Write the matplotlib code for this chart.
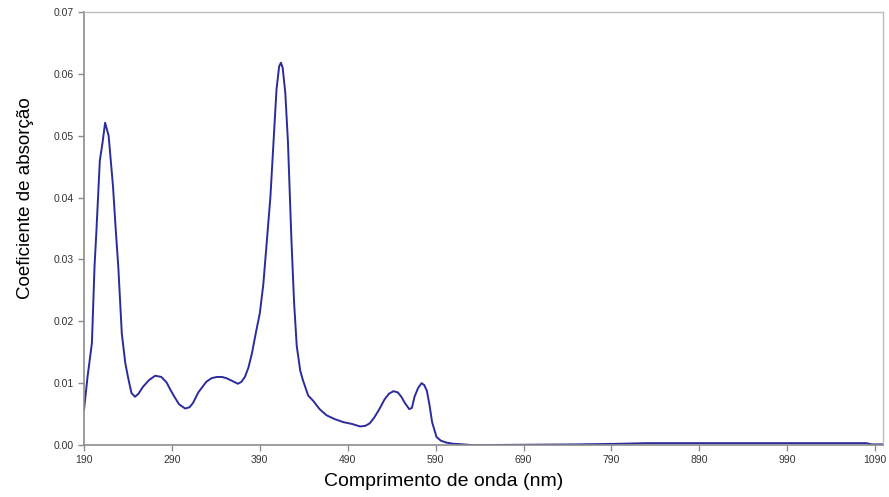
import numpy as np
import matplotlib.pyplot as plt

# Absorption spectrum values
wavelength = [190, 194, 199, 202, 204, 208, 211, 214, 218, 223, 226, 229, 233, 237, 240, 244,
              248, 252, 257, 264, 271, 278, 284, 288, 292, 298, 305, 310, 314, 320, 329,
              335, 341, 347, 352, 358, 365, 369, 373, 377, 381, 386, 390, 394, 398, 402,
              406, 409, 412, 414, 416, 419, 422, 426, 429, 432, 436, 439, 445, 451, 458,
              466, 475, 485, 495, 504, 510, 515, 520, 526, 532, 537, 542, 547, 551, 555,
              560, 563, 566, 570, 574, 577, 580, 583, 586, 591, 596, 602, 610, 617, 630,
              650, 700, 750, 800, 830, 900, 1000, 1080, 1086, 1098]
absorption = [0.0057, 0.0110, 0.0165, 0.0290, 0.0343, 0.0460, 0.0488, 0.0521, 0.0500, 0.0418,
              0.0350, 0.0288, 0.0180, 0.0132, 0.0110, 0.0084, 0.0078, 0.0083, 0.0094, 0.0105,
              0.0112, 0.0110, 0.0101, 0.0090, 0.0080, 0.0066, 0.0059, 0.0061, 0.0068, 0.0085,
              0.0102, 0.0108, 0.0110, 0.0110, 0.0108, 0.0104, 0.0099, 0.0102, 0.0110, 0.0125,
              0.0148, 0.0185, 0.0213, 0.0260, 0.0330, 0.0400, 0.0500, 0.0575, 0.0612, 0.0618,
              0.0610, 0.0569, 0.0490, 0.0330, 0.0230, 0.0160, 0.0120, 0.0105, 0.0080, 0.0071,
              0.0058, 0.0048, 0.0042, 0.0037, 0.0034, 0.0030, 0.0031, 0.0035, 0.0044, 0.0058,
              0.0074, 0.0083, 0.0087, 0.0085, 0.0078, 0.0068, 0.0058, 0.0060, 0.0078, 0.0092,
              0.0100, 0.0097, 0.0088, 0.0065, 0.0037, 0.0013, 0.0007, 0.0004, 0.0002, 0.00015,
              0.0, 0.0, 0.00005, 0.0001, 0.0002, 0.0003, 0.0003, 0.0003, 0.0003, 0.0001, 0.0001]

x_ticks = [190, 290, 390, 490, 590, 690, 790, 890, 990, 1090]
y_ticks = [0.00, 0.01, 0.02, 0.03, 0.04, 0.05, 0.06, 0.07]

label_font = ['Liberation Sans', 'DejaVu Sans']

fig = plt.figure(figsize=(8.89, 4.97), dpi=100)
ax = fig.add_axes([0.0945, 0.1046, 0.8988, 0.8713])

ax.plot(wavelength, absorption, color='#2b2b9c', linewidth=1.4)

ax.set_xlim(190, 1099)
ax.set_ylim(0, 0.07)
ax.set_xticks(x_ticks)
ax.set_yticks(y_ticks)
ax.set_yticklabels([f"{v:.2f}" for v in y_ticks])

for s in ['left', 'bottom']:
    ax.spines[s].set_color('#8c8c8c')
    ax.spines[s].set_linewidth(1.2)
for s in ['top', 'right']:
    ax.spines[s].set_color('#bdbdbd')
    ax.spines[s].set_linewidth(1.0)

ax.tick_params(axis='both', colors='#8c8c8c', labelcolor='#333333', length=4, width=1,
               labelsize=7.5, direction='out')
for lab in ax.get_xticklabels() + ax.get_yticklabels():
    lab.set_family(label_font)

# labels sit a bit off-centre in the original
ax.set_xlabel('Comprimento de onda (nm)', fontsize=14, family=label_font)
ax.xaxis.set_label_coords(0.45, -0.065)
ax.set_ylabel('Coeficiente de absorção', fontsize=13.5, family=label_font)
ax.yaxis.set_label_coords(-0.063, 0.57)

fig.savefig('out.png', dpi=100)
